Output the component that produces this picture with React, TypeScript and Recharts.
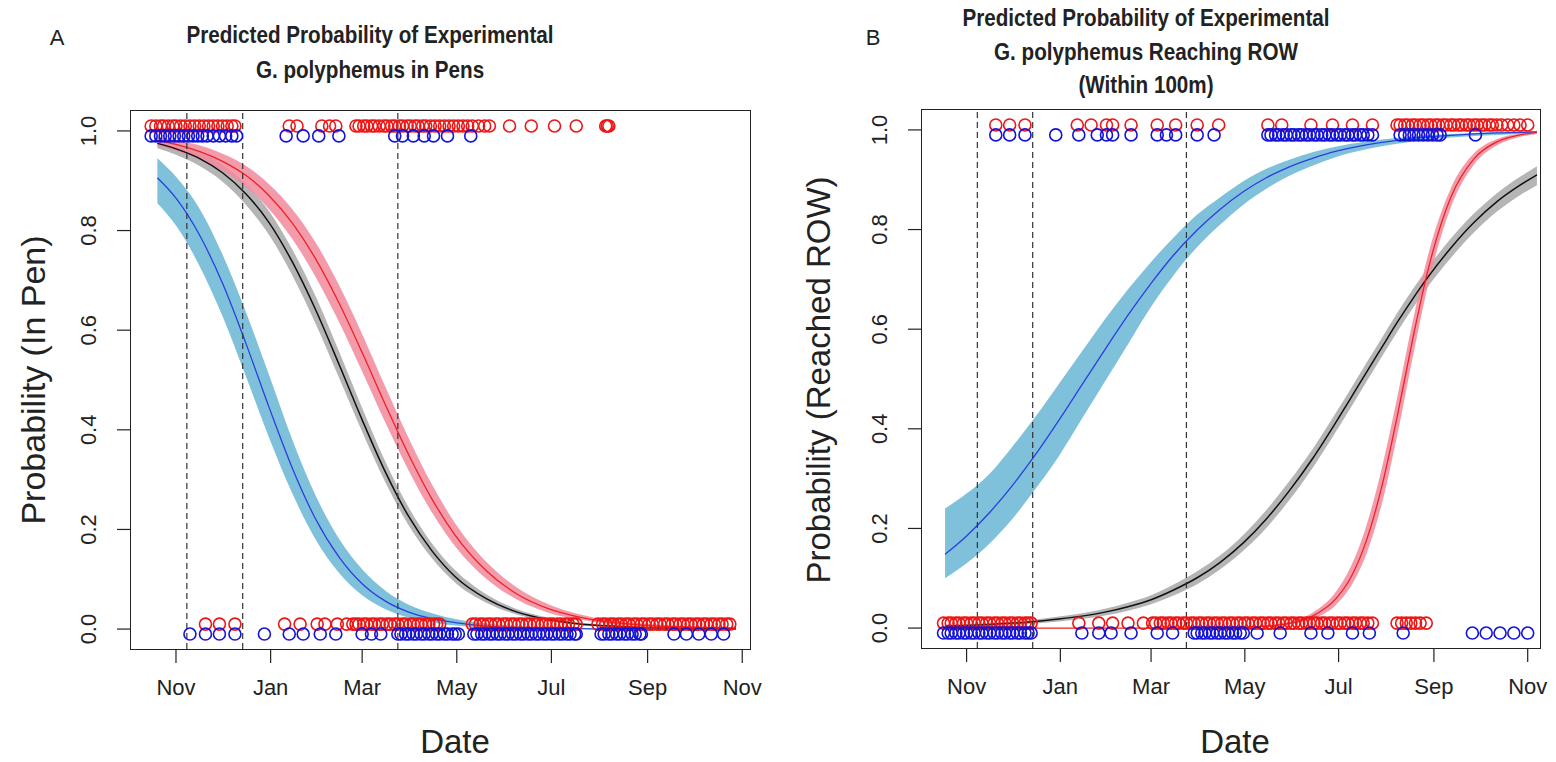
import React from 'react';
import { ComposedChart, Line, Area, Scatter, XAxis, YAxis, ReferenceLine } from 'recharts';

// x values are days counted from 1 November
const monthTicks = [0, 61, 120, 181, 242, 304, 365];
const monthLabels = ['Nov', 'Jan', 'Mar', 'May', 'Jul', 'Sep', 'Nov'];
const probTicks = [0, 0.2, 0.4, 0.6, 0.8, 1.0];
const probLabels = ['0.0', '0.2', '0.4', '0.6', '0.8', '1.0'];
const dashedDays = [7, 43, 143];

// Panel A: probability in pen
const penDays = [-12, 0, 15, 30, 45, 60, 75, 90, 105, 120, 135, 150, 165, 180, 200, 220, 240, 260, 280, 300, 320, 340, 361];
const penBlack = [0.975, 0.964, 0.945, 0.916, 0.874, 0.816, 0.737, 0.641, 0.532, 0.42, 0.315, 0.226, 0.157, 0.105, 0.061, 0.034, 0.019, 0.01, 0.006, 0.003, 0.002, 0.001, 0.001];
const penBlackLo = [0.965, 0.952, 0.93, 0.898, 0.852, 0.791, 0.71, 0.613, 0.505, 0.396, 0.294, 0.208, 0.142, 0.093, 0.053, 0.029, 0.016, 0.008, 0.004, 0.002, 0.001, 0, 0];
const penBlackHi = [0.983, 0.974, 0.958, 0.932, 0.893, 0.839, 0.762, 0.668, 0.558, 0.444, 0.336, 0.244, 0.172, 0.118, 0.07, 0.04, 0.023, 0.013, 0.008, 0.005, 0.003, 0.002, 0.002];
const penRed = [0.981, 0.973, 0.959, 0.939, 0.911, 0.87, 0.815, 0.743, 0.655, 0.555, 0.45, 0.35, 0.261, 0.188, 0.117, 0.07, 0.041, 0.024, 0.014, 0.008, 0.005, 0.003, 0.002];
const penRedLo = [0.97, 0.96, 0.943, 0.92, 0.888, 0.843, 0.783, 0.707, 0.617, 0.517, 0.414, 0.318, 0.234, 0.166, 0.101, 0.059, 0.033, 0.019, 0.01, 0.006, 0.003, 0.002, 0.001];
const penRedHi = [0.988, 0.982, 0.971, 0.954, 0.93, 0.893, 0.843, 0.776, 0.691, 0.592, 0.486, 0.383, 0.29, 0.212, 0.135, 0.083, 0.05, 0.03, 0.018, 0.011, 0.007, 0.004, 0.003];
const penBlue = [0.906, 0.865, 0.792, 0.694, 0.574, 0.445, 0.323, 0.221, 0.145, 0.091, 0.056, 0.034, 0.021, 0.013, 0.006, 0.003, 0.002, 0.001, 0, 0, 0, 0, 0];
const penBlueLo = [0.855, 0.81, 0.73, 0.628, 0.508, 0.384, 0.272, 0.18, 0.113, 0.068, 0.04, 0.023, 0.013, 0.007, 0.003, 0.001, 0.0005, 0, 0, 0, 0, 0, 0];
const penBlueHi = [0.945, 0.908, 0.845, 0.752, 0.637, 0.51, 0.38, 0.268, 0.182, 0.12, 0.077, 0.049, 0.032, 0.02, 0.011, 0.006, 0.003, 0.002, 0.001, 0.0005, 0, 0, 0];

const penTopRed = [-16, -13, -10, -8, -5, -2, 0, 3, 6, 9, 12, 15, 18, 21, 24, 27, 30, 33, 36, 38, 73, 78, 94, 99, 103, 116, 118, 121, 123, 126, 128, 131, 134, 136, 139, 141, 144, 146, 149, 151, 154, 156, 159, 161, 164, 167, 170, 173, 176, 179, 182, 185, 188, 191, 195, 199, 202, 215, 229, 244, 258, 277, 278, 279];
const penTopBlue = [-16, -13, -10, -7, -4, -1, 2, 5, 8, 11, 14, 17, 20, 24, 28, 32, 36, 39, 71, 82, 92, 105, 141, 146, 153, 160, 166, 175, 190];
const penBottomRed = [19, 28, 38, 70, 80, 91, 96, 104, 110, 114, 116, 118, 121, 123, 126, 128, 131, 133, 136, 138, 141, 143, 146, 148, 151, 153, 156, 158, 161, 163, 166, 168, 170, 191, 193, 196, 198, 201, 203, 206, 208, 211, 213, 216, 218, 221, 223, 226, 228, 231, 233, 236, 238, 241, 243, 246, 248, 251, 253, 256, 258, 272, 275, 277, 280, 282, 285, 287, 290, 292, 295, 297, 300, 302, 305, 307, 310, 312, 315, 317, 320, 322, 325, 327, 330, 332, 335, 337, 340, 342, 345, 347, 350, 352, 355, 357];
const penBottomBlue = [9, 19, 28, 38, 57, 73, 82, 93, 103, 120, 126, 132, 143, 145, 148, 150, 153, 155, 158, 160, 163, 165, 168, 170, 173, 175, 178, 180, 182, 192, 194, 197, 199, 202, 204, 207, 209, 212, 214, 217, 219, 222, 224, 227, 229, 232, 234, 237, 239, 242, 244, 247, 249, 252, 254, 257, 258, 274, 276, 279, 281, 284, 286, 289, 291, 294, 296, 299, 300, 321, 329, 337, 345, 353];

// Panel B: probability of reaching ROW
const rowDays = [-14, 0, 15, 30, 45, 60, 75, 90, 105, 120, 135, 150, 165, 180, 195, 210, 225, 240, 250, 260, 270, 280, 290, 300, 315, 330, 345, 360, 371];
const rowBlue = [0.148, 0.185, 0.232, 0.287, 0.349, 0.417, 0.488, 0.559, 0.628, 0.692, 0.75, 0.799, 0.841, 0.876, 0.904, 0.926, 0.943, 0.957, 0.964, 0.97, 0.975, 0.979, 0.983, 0.986, 0.989, 0.992, 0.994, 0.995, 0.996];
const rowBlueLo = [0.1, 0.13, 0.17, 0.22, 0.28, 0.345, 0.42, 0.495, 0.57, 0.645, 0.71, 0.765, 0.81, 0.85, 0.882, 0.908, 0.928, 0.945, 0.954, 0.961, 0.967, 0.972, 0.977, 0.981, 0.985, 0.988, 0.99, 0.992, 0.993];
const rowBlueHi = [0.24, 0.27, 0.31, 0.365, 0.425, 0.49, 0.555, 0.62, 0.68, 0.735, 0.785, 0.83, 0.865, 0.897, 0.922, 0.94, 0.955, 0.966, 0.972, 0.977, 0.981, 0.984, 0.987, 0.99, 0.992, 0.994, 0.996, 0.997, 0.998];
const rowBlack = [0.004, 0.005, 0.007, 0.01, 0.013, 0.018, 0.024, 0.032, 0.043, 0.057, 0.077, 0.101, 0.132, 0.171, 0.219, 0.276, 0.34, 0.412, 0.462, 0.513, 0.563, 0.613, 0.66, 0.704, 0.763, 0.814, 0.856, 0.889, 0.91];
const rowBlackLo = [0.002, 0.003, 0.004, 0.006, 0.009, 0.013, 0.018, 0.025, 0.035, 0.048, 0.066, 0.088, 0.118, 0.155, 0.201, 0.257, 0.321, 0.393, 0.443, 0.494, 0.544, 0.594, 0.641, 0.685, 0.743, 0.794, 0.836, 0.869, 0.889];
const rowBlackHi = [0.007, 0.008, 0.01, 0.013, 0.017, 0.023, 0.03, 0.039, 0.051, 0.066, 0.088, 0.114, 0.146, 0.187, 0.237, 0.295, 0.359, 0.431, 0.481, 0.532, 0.582, 0.632, 0.679, 0.723, 0.782, 0.832, 0.873, 0.906, 0.927];
const rowRed = [0, 0, 0, 0, 0, 0, 0, 0, 0, 0, 0, 0.0002, 0.0006, 0.0015, 0.0038, 0.0095, 0.024, 0.058, 0.102, 0.175, 0.283, 0.423, 0.577, 0.717, 0.865, 0.942, 0.976, 0.99, 0.995];
const rowRedLo = [0, 0, 0, 0, 0, 0, 0, 0, 0, 0, 0, 0, 0.0003, 0.001, 0.0027, 0.007, 0.018, 0.046, 0.084, 0.148, 0.248, 0.385, 0.54, 0.686, 0.845, 0.93, 0.969, 0.986, 0.992];
const rowRedHi = [0, 0, 0, 0, 0, 0, 0, 0, 0, 0, 0, 0.0005, 0.001, 0.0022, 0.0052, 0.013, 0.031, 0.072, 0.124, 0.205, 0.32, 0.462, 0.613, 0.747, 0.883, 0.953, 0.982, 0.993, 0.997];

const rowTopRed = [19, 28, 38, 72, 81, 91, 95, 107, 124, 136, 150, 164, 196, 205, 224, 238, 251, 264, 280, 282, 285, 287, 290, 292, 295, 297, 300, 302, 305, 307, 310, 312, 315, 317, 320, 322, 325, 327, 330, 332, 335, 337, 340, 342, 345, 348, 352, 356, 360, 365];
const rowTopBlue = [19, 28, 38, 58, 73, 85, 91, 95, 107, 124, 130, 136, 150, 161, 196, 198, 201, 203, 206, 208, 211, 213, 216, 218, 221, 223, 226, 228, 231, 233, 236, 238, 241, 243, 246, 248, 251, 253, 256, 258, 261, 264, 282, 285, 288, 291, 294, 297, 300, 303, 306, 308, 331];
const rowBottomRed = [-15, -12, -10, -7, -5, -2, 0, 3, 5, 8, 10, 13, 15, 18, 20, 23, 25, 28, 30, 33, 35, 38, 40, 42, 73, 86, 95, 105, 115, 121, 123, 126, 128, 131, 133, 136, 138, 141, 143, 146, 148, 151, 153, 156, 158, 161, 163, 166, 168, 171, 173, 176, 178, 181, 183, 186, 188, 191, 193, 196, 198, 201, 203, 206, 208, 211, 213, 216, 218, 221, 223, 226, 228, 231, 233, 236, 238, 241, 243, 246, 248, 251, 253, 256, 258, 261, 264, 280, 283, 286, 289, 292, 295, 299];
const rowBottomBlue = [-15, -12, -10, -7, -5, -2, 0, 3, 5, 8, 10, 13, 15, 18, 20, 23, 25, 28, 30, 33, 35, 38, 40, 42, 75, 86, 94, 107, 124, 134, 148, 150, 153, 155, 158, 160, 163, 165, 168, 170, 173, 175, 178, 180, 189, 204, 224, 235, 251, 262, 284, 329, 338, 347, 356, 365];

const FONT = '"Liberation Sans", Arial, Helvetica, sans-serif';
const RED = '#ee1515';
const BLUE = '#1414d8';

const buildRows = (days: number[], black: number[], blackLo: number[], blackHi: number[], red: number[], redLo: number[], redHi: number[], blue: number[], blueLo: number[], blueHi: number[]) =>
  days.map((day, i) => ({
    day,
    black: black[i],
    blackBand: [blackLo[i], blackHi[i]],
    red: red[i],
    redBand: [redLo[i], redHi[i]],
    blue: blue[i],
    blueBand: [blueLo[i], blueHi[i]],
  }));

const penRows = buildRows(penDays, penBlack, penBlackLo, penBlackHi, penRed, penRedLo, penRedHi, penBlue, penBlueLo, penBlueHi);
const rowRows = buildRows(rowDays, rowBlack, rowBlackLo, rowBlackHi, rowRed, rowRedLo, rowRedHi, rowBlue, rowBlueLo, rowBlueHi);

const toPoints = (days: number[], p: number) => days.map(day => ({ day, p }));

const ring = (color: string) => (props: any) => (
  <circle cx={props.cx} cy={props.cy} r={6} fill="none" stroke={color} strokeWidth={1.6} />
);

const XTick = (props: any) => {
  const { x, y, payload } = props;
  const label = monthLabels[monthTicks.indexOf(payload.value)];
  return (
    <text x={x} y={y + 32} textAnchor="middle" fontSize={22} fill="#222" fontFamily={FONT}>
      {label}
    </text>
  );
};

const YTick = (props: any) => {
  const { x, y, payload } = props;
  const label = probLabels[probTicks.indexOf(payload.value)];
  const tx = x - 21;
  return (
    <text x={tx} y={y} transform={`rotate(-90, ${tx}, ${y})`} textAnchor="middle" fontSize={22} fill="#222" fontFamily={FONT}>
      {label}
    </text>
  );
};

type PanelProps = {
  left: number;
  width: number;
  plotLeft: number;
  plotRight: number;
  plotTop: number;
  plotBottom: number;
  xMax: number;
  rows: any[];
  topRed: number[];
  topBlue: number[];
  bottomRed: number[];
  bottomBlue: number[];
};

const Panel: React.FC<PanelProps> = ({ left, width, plotLeft, plotRight, plotTop, plotBottom, xMax, rows, topRed, topBlue, bottomRed, bottomBlue }) => {
  const height = 762;
  return (
    <div style={{ position: 'absolute', left, top: 0, width, height }}>
      <ComposedChart
        width={width}
        height={height}
        data={rows}
        margin={{ top: plotTop, right: width - (plotRight - left), bottom: 0, left: 0 }}
      >
        <XAxis
          dataKey="day"
          type="number"
          domain={[-29, xMax]}
          ticks={monthTicks}
          interval={0}
          allowDataOverflow
          axisLine={false}
          tickSize={14}
          tickMargin={0}
          tickLine={{ stroke: '#222', strokeWidth: 1.2 }}
          height={height - plotBottom}
          tick={(p: any) => <XTick {...p} />}
        />
        <YAxis
          type="number"
          domain={[-0.04, 1.04]}
          ticks={probTicks}
          interval={0}
          allowDataOverflow
          axisLine={false}
          tickSize={14}
          tickMargin={0}
          tickLine={{ stroke: '#222', strokeWidth: 1.2 }}
          width={plotLeft - left}
          tick={(p: any) => <YTick {...p} />}
        />
        <Scatter data={toPoints(bottomRed, 0.01)} dataKey="p" shape={ring(RED)} isAnimationActive={false} />
        <Scatter data={toPoints(bottomBlue, -0.01)} dataKey="p" shape={ring(BLUE)} isAnimationActive={false} />
        <Scatter data={toPoints(topRed, 1.01)} dataKey="p" shape={ring(RED)} isAnimationActive={false} />
        <Scatter data={toPoints(topBlue, 0.99)} dataKey="p" shape={ring(BLUE)} isAnimationActive={false} />
        <Area type="monotone" dataKey="blueBand" stroke="none" fill="#7fc1da" fillOpacity={1} isAnimationActive={false} />
        <Area type="monotone" dataKey="blackBand" stroke="none" fill="#a8a8a8" fillOpacity={0.85} isAnimationActive={false} />
        <Area type="monotone" dataKey="redBand" stroke="none" fill="#f28a9c" fillOpacity={0.85} isAnimationActive={false} />
        <Line type="monotone" dataKey="blue" stroke="#2a3fe0" strokeWidth={1.3} dot={false} activeDot={false} isAnimationActive={false} />
        <Line type="monotone" dataKey="black" stroke="#111" strokeWidth={1.5} dot={false} activeDot={false} isAnimationActive={false} />
        <Line type="monotone" dataKey="red" stroke="#ee2222" strokeWidth={1.3} dot={false} activeDot={false} isAnimationActive={false} />
        {dashedDays.map(d => (
          <ReferenceLine key={d} x={d} stroke="#333" strokeWidth={1.2} strokeDasharray="6 4" />
        ))}
      </ComposedChart>
      <div
        style={{
          position: 'absolute',
          left: plotLeft - left - 1,
          top: plotTop - 1,
          width: plotRight - plotLeft + 2,
          height: plotBottom - plotTop + 2,
          border: '1.6px solid #222',
          boxSizing: 'border-box',
          pointerEvents: 'none',
        }}
      />
    </div>
  );
};

const textStyle = (x: number, y: number, size: number, bold = false, rotate = 0, squeeze = 1): React.CSSProperties => ({
  position: 'absolute',
  left: x,
  top: y,
  transform: `translate(-50%, -50%) rotate(${rotate}deg) scaleX(${squeeze})`,
  whiteSpace: 'nowrap',
  fontFamily: FONT,
  fontSize: size,
  fontWeight: bold ? 'bold' : 'normal',
  color: '#222',
  lineHeight: 1,
});

const App: React.FC = () => {
  return (
    <div style={{ position: 'absolute', left: 0, top: 0, width: 1556, height: 762, background: '#fff', overflow: 'hidden' }}>
      <Panel
        left={0}
        width={780}
        plotLeft={131}
        plotRight={750}
        plotTop={111}
        plotBottom={649}
        xMax={370}
        rows={penRows}
        topRed={penTopRed}
        topBlue={penTopBlue}
        bottomRed={penBottomRed}
        bottomBlue={penBottomBlue}
      />
      <Panel
        left={780}
        width={776}
        plotLeft={922}
        plotRight={1540}
        plotTop={110}
        plotBottom={648}
        xMax={373}
        rows={rowRows}
        topRed={rowTopRed}
        topBlue={rowTopBlue}
        bottomRed={rowBottomRed}
        bottomBlue={rowBottomBlue}
      />

      <div style={textStyle(57, 38, 22)}>A</div>
      <div style={textStyle(370, 35, 24, true, 0, 0.86)}>Predicted Probability of Experimental</div>
      <div style={textStyle(370, 70, 24, true, 0, 0.86)}>G. polyphemus in Pens</div>
      <div style={textStyle(33, 380, 34, false, -90)}>Probability (In Pen)</div>
      <div style={textStyle(455, 741, 33)}>Date</div>

      <div style={textStyle(873, 38, 22)}>B</div>
      <div style={textStyle(1146, 18, 24, true, 0, 0.86)}>Predicted Probability of Experimental</div>
      <div style={textStyle(1146, 52, 24, true, 0, 0.86)}>G. polyphemus Reaching ROW</div>
      <div style={textStyle(1146, 85, 24, true, 0, 0.86)}>(Within 100m)</div>
      <div style={textStyle(818, 380, 33, false, -90)}>Probability (Reached ROW)</div>
      <div style={textStyle(1235, 741, 33)}>Date</div>
    </div>
  );
};

export default App;
